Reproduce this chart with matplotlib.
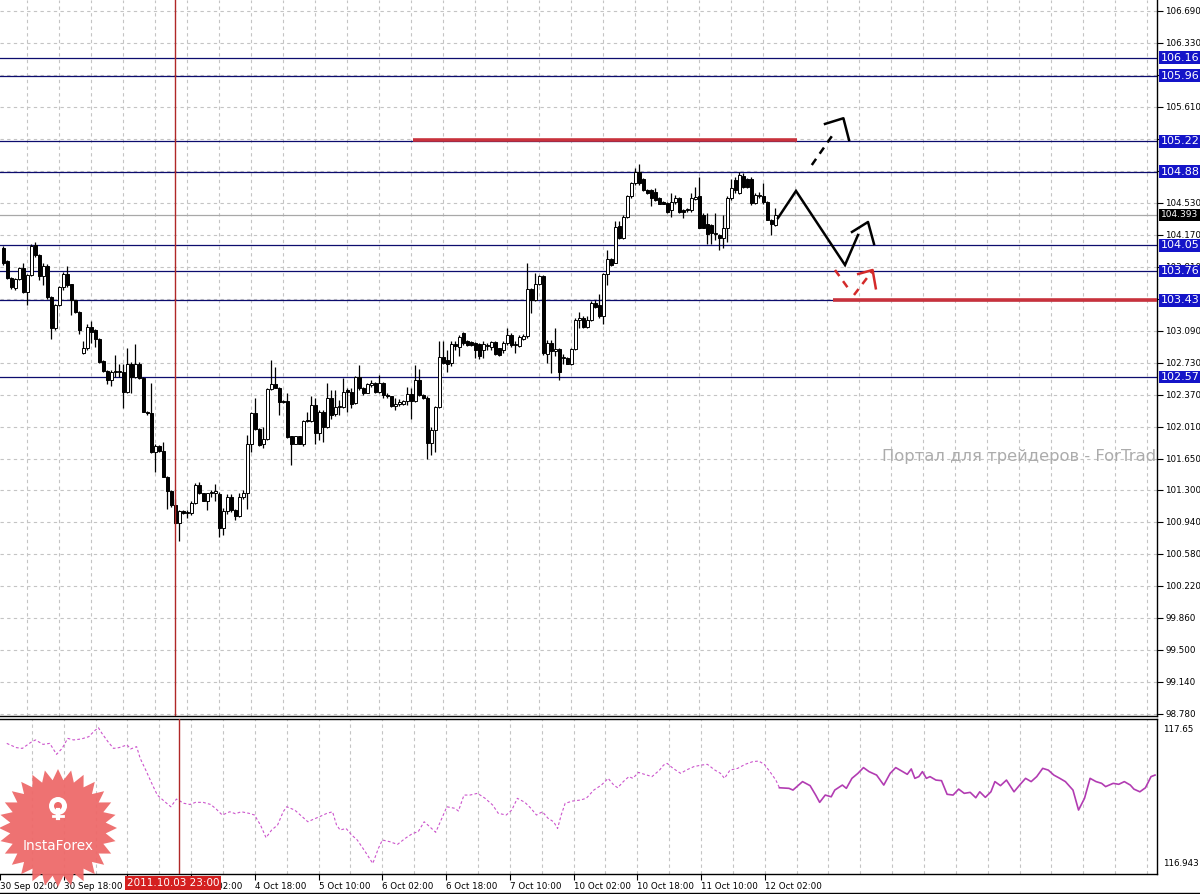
import numpy as np
import matplotlib
matplotlib.use('Agg')
import matplotlib.pyplot as plt
import matplotlib.transforms as mtransforms
from matplotlib.patches import Polygon, Circle

plt.rcParams['font.family'] = ['DejaVu Sans']

# H1 candles, bar 0 = 30 Sep 04:00
opens = [104.02, 103.87, 103.68, 103.57, 103.67, 103.80, 103.53, 103.72, 104.05, 103.94,
         103.70, 103.82, 103.47, 103.12, 103.38, 103.58, 103.73, 103.61, 103.43, 103.30,
         102.84, 102.89, 103.13, 103.10, 103.00, 102.75, 102.64, 102.53, 102.62, 102.63,
         102.63, 102.40, 102.72, 102.57, 102.72, 102.56, 102.18, 102.16, 101.73, 101.79,
         101.74, 101.45, 101.29, 101.13, 100.93, 101.06, 101.04, 101.04, 101.15, 101.36,
         101.26, 101.18, 101.26, 101.27, 101.25, 100.87, 101.06, 101.22, 101.07, 101.01,
         101.22, 101.26, 101.81, 102.16, 101.98, 101.82, 101.87, 102.43, 102.49, 102.45,
         102.30, 102.30, 101.90, 101.82, 101.90, 101.82, 102.09, 102.07, 102.25, 101.94,
         102.17, 102.01, 102.33, 102.15, 102.23, 102.23, 102.42, 102.40, 102.28, 102.57,
         102.44, 102.39, 102.48, 102.50, 102.40, 102.50, 102.37, 102.35, 102.24, 102.27,
         102.27, 102.30, 102.38, 102.30, 102.54, 102.37, 102.33, 101.83, 101.97, 102.23,
         102.79, 102.76, 102.73, 102.94, 102.91, 103.06, 102.97, 102.96, 102.95, 102.94,
         102.87, 102.92, 102.91, 102.96, 102.89, 102.87, 102.95, 103.04, 102.93, 102.92,
         103.00, 103.03, 103.56, 103.44, 103.62, 103.70, 102.83, 102.95, 102.86, 102.88,
         102.78, 102.78, 102.72, 102.88, 103.21, 103.23, 103.13, 103.21, 103.40, 103.38,
         103.25, 103.73, 103.90, 103.85, 104.27, 104.13, 104.37, 104.60, 104.75, 104.88,
         104.80, 104.67, 104.67, 104.65, 104.58, 104.54, 104.53, 104.45, 104.54, 104.58,
         104.45, 104.45, 104.45, 104.57, 104.60, 104.39, 104.29, 104.28, 104.18, 104.17,
         104.13, 104.25, 104.58, 104.79, 104.64, 104.83, 104.80, 104.80, 104.53, 104.60,
         104.60, 104.54, 104.34, 104.28]
highs = [104.04, 103.88, 103.69, 103.68, 103.81, 103.85, 103.73, 104.07, 104.09, 103.95,
         103.85, 103.84, 103.48, 103.39, 103.59, 103.75, 103.82, 103.62, 103.44, 103.31,
         102.97, 103.17, 103.20, 103.11, 103.01, 102.76, 102.65, 102.65, 102.82, 102.72,
         102.72, 102.89, 102.74, 102.94, 102.74, 102.57, 102.19, 102.50, 101.82, 101.80,
         101.84, 101.46, 101.30, 101.20, 101.07, 101.07, 101.07, 101.18, 101.38, 101.39,
         101.27, 101.27, 101.30, 101.37, 101.28, 101.10, 101.25, 101.25, 101.08, 101.26,
         101.30, 101.92, 102.18, 102.33, 101.99, 102.01, 102.44, 102.76, 102.68, 102.46,
         102.31, 102.39, 101.91, 101.91, 101.91, 102.08, 102.18, 102.35, 102.33, 102.20,
         102.20, 102.50, 102.42, 102.42, 102.31, 102.56, 102.44, 102.44, 102.58, 102.70,
         102.46, 102.50, 102.54, 102.51, 102.59, 102.51, 102.39, 102.36, 102.33, 102.32,
         102.31, 102.46, 102.44, 102.70, 102.66, 102.38, 102.35, 102.01, 102.24, 102.97,
         102.97, 102.87, 102.97, 102.97, 103.04, 103.08, 102.98, 102.97, 102.96, 102.95,
         102.97, 102.95, 102.97, 102.97, 102.90, 102.97, 103.12, 103.06, 102.97, 103.04,
         103.05, 103.85, 103.57, 103.74, 103.72, 103.72, 102.99, 102.98, 103.12, 102.89,
         102.83, 102.79, 102.89, 103.23, 103.30, 103.25, 103.25, 103.42, 103.44, 103.50,
         103.74, 104.00, 103.91, 104.32, 104.32, 104.39, 104.62, 104.76, 104.92, 104.97,
         104.81, 104.68, 104.68, 104.69, 104.59, 104.55, 104.54, 104.64, 104.62, 104.59,
         104.46, 104.47, 104.64, 104.71, 104.82, 104.41, 104.41, 104.29, 104.41, 104.18,
         104.39, 104.60, 104.80, 104.82, 104.87, 104.86, 104.81, 104.82, 104.64, 104.65,
         104.75, 104.55, 104.35, 104.47]
lows = [103.83, 103.67, 103.56, 103.55, 103.66, 103.51, 103.38, 103.70, 103.92, 103.66,
        103.60, 103.45, 103.00, 103.10, 103.37, 103.55, 103.58, 103.27, 103.29, 103.05,
        102.83, 102.87, 102.95, 102.91, 102.73, 102.63, 102.49, 102.47, 102.57, 102.57,
        102.22, 102.39, 102.39, 102.56, 102.55, 102.17, 102.14, 101.72, 101.50, 101.73,
        101.44, 101.09, 101.11, 100.92, 100.73, 101.03, 100.98, 101.02, 101.14, 101.25,
        101.17, 101.07, 101.22, 101.17, 100.77, 100.79, 101.03, 101.05, 100.96, 100.99,
        101.20, 101.09, 101.73, 101.97, 101.79, 101.77, 101.86, 102.42, 102.44, 102.14,
        102.28, 101.88, 101.58, 101.81, 101.81, 101.79, 102.06, 102.06, 101.82, 101.86,
        101.84, 102.00, 102.10, 102.13, 102.14, 102.22, 102.18, 102.22, 102.27, 102.42,
        102.37, 102.39, 102.46, 102.39, 102.39, 102.33, 102.33, 102.23, 102.20, 102.24,
        102.25, 102.25, 102.10, 102.29, 102.35, 102.32, 101.65, 101.69, 101.73, 102.22,
        102.72, 102.63, 102.69, 102.87, 102.80, 102.93, 102.92, 102.92, 102.78, 102.77,
        102.78, 102.87, 102.87, 102.82, 102.81, 102.84, 102.93, 102.91, 102.84, 102.91,
        102.98, 103.01, 103.29, 103.42, 103.60, 102.82, 102.73, 102.61, 102.80, 102.54,
        102.72, 102.71, 102.70, 102.87, 103.12, 103.12, 103.12, 103.20, 103.35, 103.23,
        103.17, 103.60, 103.82, 103.85, 104.12, 104.12, 104.36, 104.58, 104.73, 104.73,
        104.66, 104.63, 104.49, 104.55, 104.51, 104.51, 104.41, 104.37, 104.52, 104.41,
        104.36, 104.43, 104.43, 104.56, 104.24, 104.24, 104.07, 104.07, 104.11, 104.00,
        104.02, 104.09, 104.56, 104.64, 104.63, 104.69, 104.70, 104.50, 104.52, 104.58,
        104.52, 104.33, 104.17, 104.27]
closes = [103.85, 103.68, 103.58, 103.67, 103.80, 103.53, 103.72, 104.04, 103.94, 103.70,
          103.82, 103.47, 103.12, 103.38, 103.58, 103.73, 103.60, 103.43, 103.30, 103.10,
          102.89, 103.13, 103.08, 103.00, 102.74, 102.64, 102.53, 102.62, 102.63, 102.63,
          102.40, 102.72, 102.57, 102.72, 102.56, 102.18, 102.16, 101.73, 101.79, 101.74,
          101.45, 101.29, 101.13, 100.93, 101.06, 101.04, 101.04, 101.15, 101.36, 101.26,
          101.18, 101.26, 101.27, 101.27, 100.87, 101.06, 101.22, 101.07, 101.01, 101.22,
          101.26, 101.81, 102.16, 101.98, 101.80, 101.87, 102.43, 102.49, 102.45, 102.29,
          102.29, 101.89, 101.82, 101.90, 101.82, 102.07, 102.07, 102.25, 101.94, 102.17,
          102.01, 102.33, 102.14, 102.23, 102.23, 102.40, 102.40, 102.27, 102.57, 102.44,
          102.39, 102.49, 102.50, 102.40, 102.50, 102.37, 102.35, 102.24, 102.27, 102.29,
          102.30, 102.38, 102.30, 102.54, 102.37, 102.33, 101.83, 101.97, 102.23, 102.79,
          102.73, 102.72, 102.94, 102.92, 103.02, 102.95, 102.93, 102.93, 102.87, 102.80,
          102.94, 102.92, 102.96, 102.83, 102.82, 102.95, 103.04, 102.93, 102.93, 103.02,
          103.03, 103.56, 103.44, 103.62, 103.70, 102.84, 102.95, 102.86, 102.88, 102.63,
          102.78, 102.72, 102.88, 103.21, 103.23, 103.13, 103.21, 103.40, 103.36, 103.25,
          103.73, 103.90, 103.83, 104.26, 104.13, 104.37, 104.60, 104.75, 104.88, 104.75,
          104.67, 104.64, 104.58, 104.56, 104.52, 104.52, 104.43, 104.54, 104.58, 104.43,
          104.43, 104.45, 104.58, 104.59, 104.25, 104.25, 104.18, 104.19, 104.19, 104.13,
          104.25, 104.58, 104.69, 104.67, 104.84, 104.71, 104.71, 104.53, 104.62, 104.62,
          104.54, 104.34, 104.29, 104.39]

# right price scale (labels fully hidden under level tags are left blank)
price_ticks = [106.690, 106.330, 105.970, 105.610, 105.250, 104.890, 104.530, 104.170,
               103.810, 103.450, 103.090, 102.730, 102.370, 102.010, 101.650, 101.300,
               100.940, 100.580, 100.220, 99.860, 99.500, 99.140, 98.780]
hidden_ticks = [105.970, 104.890, 103.450]
level_lines = [106.16, 105.96, 105.22, 104.88, 104.05, 103.76, 103.43, 102.57]
bid = 104.393

# time axis labels (bar positions)
time_pos = [-2, 14, 30, 46, 62, 78, 94, 110, 126, 142, 158, 174, 190]
time_labels = ['30 Sep 02:00', '30 Sep 18:00', '3 Oct 10:00', '4 Oct 02:00', '4 Oct 18:00',
               '5 Oct 10:00', '6 Oct 02:00', '6 Oct 18:00', '7 Oct 10:00', '10 Oct 02:00',
               '10 Oct 18:00', '11 Oct 10:00', '12 Oct 02:00']
cursor_bar = 43
cursor_label = '2011.10.03 23:00'

# hand-drawn forecast marks (bar, price)
red_lines = [(102.5, 198.5, 105.235), (207.5, 288.5, 103.435)]
zig_x = [193.75, 198.25, 210.5, 213.75]
zig_y = [104.358, 104.662, 103.829, 104.167]
zig_head_x = [212.25, 216.25, 217.75]
zig_head_y = [104.201, 104.313, 104.066]
up_x = [202.2, 208.0]
up_y = [104.954, 105.329]
up_head_x = [205.5, 210.1, 211.5]
up_head_y = [105.416, 105.480, 105.236]
red1_x = [208.0, 211.3]
red1_y = [103.773, 103.567]
red2_x = [212.75, 217.2]
red2_y = [103.492, 103.754]
red_head_x = [213.8, 217.4, 218.2]
red_head_y = [103.728, 103.773, 103.567]

# lower window line (dashed = history, solid from bar 193.7)
ind_k = [-0.3, 2.1, 3.6, 5.8, 6.9, 8.8, 10.5, 12.2, 13.6, 15.0,
         16.5, 18.4, 20.3, 21.7, 22.7, 23.6, 25.1, 26.5, 27.9, 29.9,
         30.8, 32.3, 33.2, 34.6, 36.1, 37.5, 39.4, 40.9, 42.3, 44.2,
         45.7, 47.1, 49.0, 50.9, 52.3, 53.8, 55.7, 57.1, 58.6, 60.5,
         61.9, 63.4, 64.8, 66.2, 67.7, 69.1, 70.0, 72.0, 73.9, 75.3,
         76.8, 78.2, 80.1, 81.5, 82.5, 83.4, 84.9, 86.3, 87.7, 89.7,
         91.6, 93.0, 94.0, 95.9, 97.8, 99.7, 101.6, 103.0, 104.5, 105.9,
         107.4, 109.3, 110.2, 112.2, 113.1, 114.5, 116.0, 117.9, 119.8, 121.7,
         123.1, 125.1, 126.5, 127.9, 129.8, 131.3, 132.7, 134.2, 135.6, 137.0,
         138.0, 138.9, 139.9, 141.8, 143.7, 145.2, 147.1, 149.0,
         150.7, 152.1, 153.1, 154.5, 155.9, 156.9, 158.3, 159.8, 161.7, 163.6,
         164.6, 165.5, 167.0, 168.9, 170.3, 172.2, 174.1, 175.6, 177.5, 178.9,
         179.9, 181.3, 183.2, 185.1, 187.0, 188.5, 189.9, 191.3, 192.8, 193.7,
         196.1, 197.1, 199.5, 201.4, 202.8, 203.8, 205.2, 206.7, 207.6, 209.5,
         210.5, 211.9, 213.4, 214.8, 216.2, 218.1, 219.9, 221.5, 222.9, 224.4,
         225.8, 226.8, 227.7, 228.7, 229.6, 230.6, 231.5, 233.0, 234.4, 235.8,
         237.3, 238.7, 240.1, 241.6, 243.0, 244.0, 245.4, 246.8, 247.8, 249.2,
         250.7, 252.6, 254.0, 255.5, 256.9, 258.3, 259.8, 261.2, 262.6, 264.1,
         265.5, 267.4, 268.8, 270.3, 271.7, 273.2, 274.6, 275.6, 277.5, 278.9,
         280.3, 281.8, 282.7, 284.2, 285.6, 287.0, 288.0]
ind_v = [117.571, 117.549, 117.545, 117.577, 117.589, 117.566, 117.571, 117.514, 117.545, 117.597,
         117.589, 117.594, 117.606, 117.636, 117.653, 117.623, 117.580, 117.545, 117.549, 117.563,
         117.542, 117.554, 117.493, 117.432, 117.363, 117.302, 117.267, 117.241, 117.281, 117.259,
         117.253, 117.264, 117.264, 117.253, 117.229, 117.198, 117.215, 117.205, 117.215, 117.207,
         117.198, 117.146, 117.080, 117.120, 117.146, 117.215, 117.241, 117.224, 117.189, 117.163,
         117.177, 117.189, 117.207, 117.215, 117.146, 117.120, 117.128, 117.094, 117.068, 117.007,
         116.946, 117.024, 117.068, 117.059, 117.045, 117.076, 117.102, 117.111, 117.163, 117.137,
         117.108, 117.198, 117.241, 117.233, 117.219, 117.302, 117.302, 117.311, 117.285, 117.250,
         117.207, 117.198, 117.224, 117.285, 117.264, 117.233, 117.198, 117.215, 117.181, 117.163,
         117.128, 117.198, 117.259, 117.271, 117.276, 117.285, 117.328, 117.354,
         117.389, 117.354, 117.340, 117.372, 117.398, 117.389, 117.420, 117.410, 117.398, 117.432,
         117.458, 117.467, 117.441, 117.415, 117.432, 117.450, 117.458, 117.462, 117.432, 117.415,
         117.389, 117.432, 117.441, 117.462, 117.476, 117.479, 117.462, 117.424, 117.380, 117.340,
         117.337, 117.328, 117.372, 117.351, 117.302, 117.264, 117.302, 117.293, 117.328, 117.354,
         117.337, 117.389, 117.415, 117.445, 117.424, 117.406, 117.354, 117.415, 117.445, 117.427,
         117.410, 117.438, 117.389, 117.398, 117.424, 117.389, 117.398, 117.380, 117.377, 117.306,
         117.302, 117.333, 117.311, 117.316, 117.288, 117.319, 117.290, 117.319, 117.372, 117.351,
         117.380, 117.319, 117.354, 117.389, 117.372, 117.398, 117.441, 117.432, 117.406, 117.389,
         117.372, 117.328, 117.224, 117.285, 117.389, 117.372, 117.363, 117.346, 117.363, 117.358,
         117.372, 117.354, 117.333, 117.319, 117.340, 117.398, 117.406]
ind_split = 193.7
ind_top_label, ind_bottom_label = '117.65', '116.943'

# ---------------------------------------------------------------------------
W, H = 1200, 894
fig = plt.figure(figsize=(12, 8.94), dpi=100, facecolor='white')


def fx(px):
    return px / W


def fy(py):
    return 1 - py / H


ax = fig.add_axes([0, fy(716), fx(1157), fy(0) - fy(716)])
ax2 = fig.add_axes([0, fy(874), fx(1157), fy(719) - fy(874)])

xmin, xmax = -0.75, 288.5
grid_k = np.arange(6, 289, 8)
grid_style = dict(color='#c4c4c4', lw=0.8, ls=(0, (3, 3)))

for a in (ax, ax2):
    a.set_xlim(xmin, xmax)
    a.set_facecolor('white')
    a.spines['left'].set_visible(False)
    for s in ('right', 'bottom', 'top'):
        a.spines[s].set_color('black')
        a.spines[s].set_linewidth(1)
    for gk in grid_k:
        a.axvline(gk, zorder=0, **grid_style)
    a.axvline(cursor_bar, color='#b02828', lw=1, zorder=6)

# main window
ax.spines['top'].set_visible(False)
ax.set_ylim(98.756, 106.81)
ax.yaxis.tick_right()
ax.set_yticks(price_ticks)
ax.set_yticklabels(['' if p in hidden_ticks else f'{p:.3f}' for p in price_ticks])
ax.tick_params(axis='y', direction='out', length=4, width=0.8, labelsize=6.3, pad=2)
ax.tick_params(axis='x', bottom=False, labelbottom=False)
for p in price_ticks:
    ax.axhline(p, zorder=0, **grid_style)

ax.text(219.75, 101.67, 'Портал для трейдеров - ForTrader.org', color='#acacac',
        fontsize=11.8, va='center', ha='left', clip_on=True, zorder=1)

yblend = mtransforms.blended_transform_factory(ax.transAxes, ax.transData)
for lv in level_lines:
    ax.axhline(lv, color='#0c0c6e', lw=0.9, zorder=2)
    ax.text(1.003, lv, f'{lv:.2f}', transform=yblend, color='white', fontsize=8,
            va='center', ha='left', clip_on=False, zorder=8,
            bbox=dict(boxstyle='square,pad=0.12', fc='#1414c8', ec='none'))
ax.axhline(bid, color='#a8a8a8', lw=0.9, zorder=2)
ax.text(1.003, bid, f'{bid:.3f}', transform=yblend, color='white', fontsize=6.5,
        va='center', ha='left', clip_on=False, zorder=8,
        bbox=dict(boxstyle='square,pad=0.2', fc='black', ec='none'))

# candles
o, hi, lo, c = map(np.array, (opens, highs, lows, closes))
k = np.arange(len(o))
up = c >= o
body_lo = np.minimum(o, c)
body_h = np.maximum(np.abs(c - o), 0.012)
ax.vlines(k, lo, hi, color='black', lw=0.9, zorder=3)
ax.bar(k[up], body_h[up], bottom=body_lo[up], width=0.75, color='white',
       edgecolor='black', lw=0.7, zorder=4)
ax.bar(k[~up], body_h[~up], bottom=body_lo[~up], width=0.75, color='black',
       edgecolor='black', lw=0.7, zorder=4)

# forecast drawings
for x0, x1, yv in red_lines:
    ax.hlines(yv, x0, x1, color='#c8323c', lw=2.6, zorder=5)
ax.plot(zig_x, zig_y, color='black', lw=1.8, zorder=7, solid_joinstyle='miter')
ax.plot(zig_head_x, zig_head_y, color='black', lw=1.8, zorder=7)
ax.plot(up_x, up_y, color='black', lw=1.8, ls=(0, (3, 2.5)), zorder=7)
ax.plot(up_head_x, up_head_y, color='black', lw=1.8, zorder=7)
ax.plot(red1_x, red1_y, color='#d42a2a', lw=1.8, ls=(0, (3, 2.5)), zorder=7)
ax.plot(red2_x, red2_y, color='#d42a2a', lw=1.8, ls=(0, (3, 2.5)), zorder=7)
ax.plot(red_head_x, red_head_y, color='#d42a2a', lw=1.8, zorder=7)

# lower window
ax2.set_ylim(116.891, 117.698)
ax2.set_yticks([])
ik = np.array(ind_k)
iv = np.array(ind_v)
hist = ik <= ind_split
fut = ik >= ind_split
ax2.plot(ik[hist], iv[hist], color='#cc55cc', lw=0.8, ls=(0, (2.5, 2)), zorder=3)
ax2.plot(ik[fut], iv[fut], color='#b23cb2', lw=1.2, zorder=3)
ax2.set_xticks(time_pos)
ax2.set_xticklabels(time_labels)
ax2.tick_params(axis='x', direction='out', length=4, width=0.8, labelsize=6.3, pad=2)
for lab in ax2.get_xticklabels():
    lab.set_horizontalalignment('left')
ax2.text(1.005, 0.935, ind_top_label, transform=ax2.transAxes, fontsize=6.3,
         va='center', ha='left')
ax2.text(1.005, 0.065, ind_bottom_label, transform=ax2.transAxes, fontsize=6.3,
         va='center', ha='left')

# overlay: cursor date tag, frame and logo (pixel coordinates)
lax = fig.add_axes([0, 0, 1, 1], facecolor='none')
lax.set_xlim(0, W)
lax.set_ylim(H, 0)
lax.axis('off')
lax.plot([0, W], [892.5, 892.5], color='black', lw=1)
lax.text(173, 883, cursor_label, color='white', fontsize=7.5, ha='center', va='center',
         bbox=dict(boxstyle='square,pad=0.2', fc='#d42020', ec='none'), zorder=5)

n_teeth = 28
ang = np.linspace(0, 2 * np.pi, 2 * n_teeth, endpoint=False) - np.pi / 2
rad = np.where(np.arange(2 * n_teeth) % 2 == 0, 59, 48)
cx, cy = 58, 828
star = np.column_stack([cx + rad * np.cos(ang), cy + rad * np.sin(ang)])
lax.add_patch(Polygon(star, closed=True, fc='#ee6a6a', ec='none', alpha=0.95, zorder=6))
lax.add_patch(Circle((cx, cy - 22), 9, fc='white', ec='none', zorder=7))
lax.add_patch(Circle((cx, cy - 22), 4, fc='#ee6a6a', ec='none', zorder=8))
lax.plot([cx, cx], [cy - 18, cy - 10], color='white', lw=3, zorder=8)
lax.plot([cx - 5, cx + 5], [cy - 12, cy - 12], color='white', lw=2, zorder=8)
lax.text(cx, cy + 18, 'InstaForex', color='white', fontsize=9.8, ha='center',
         va='center', zorder=8)

fig.savefig('out.png', dpi=100, facecolor='white')
